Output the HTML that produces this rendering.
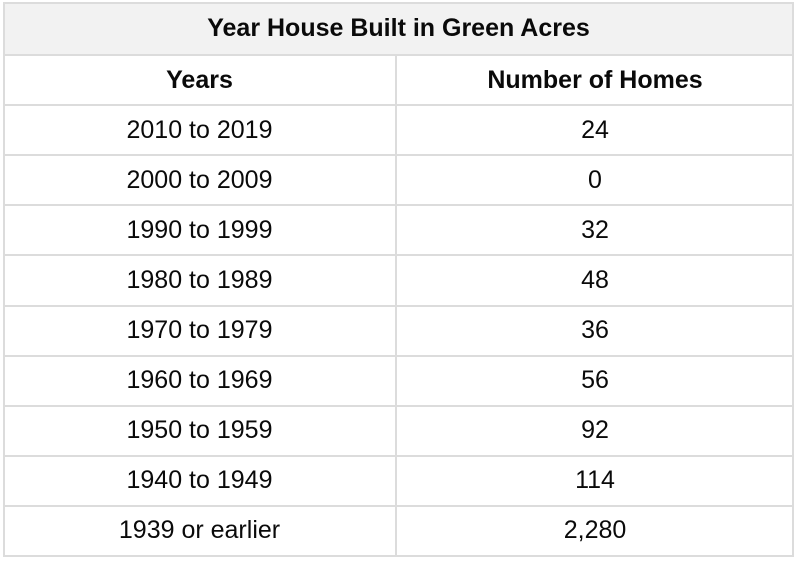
<!DOCTYPE html>
<html><head><meta charset="utf-8"><style>
body{margin:0;width:800px;height:566px;background:#fff;font-family:"Liberation Sans",Arial,sans-serif;position:relative;overflow:hidden}
.c{position:absolute;display:flex;align-items:center;justify-content:center;font-size:25px;color:#0a0a0a;box-sizing:border-box}
.h{position:absolute;background:#dcdcdc}
</style></head><body>
<div id="t"></div>
<script>
const years=["2010 to 2019","2000 to 2009","1990 to 1999","1980 to 1989","1970 to 1979","1960 to 1969","1950 to 1959","1940 to 1949","1939 or earlier"];
const homes=["24","0","32","48","36","56","92","114","2,280"];
const t=document.getElementById('t');
const L=3,R=794,M=396,T=2,rowH=50.1;
function cell(x,y,w,h,txt,bold,bg,name){
 const d=document.createElement('div');d.className='c';
 d.style.left=x+'px';d.style.top=y+'px';d.style.width=w+'px';d.style.height=h+'px';
 if(bold)d.style.fontWeight='bold';if(bg)d.style.background=bg;
 d.textContent=txt;
 
 
 t.appendChild(d);}
function line(x,y,w,h,name){const d=document.createElement('div');d.className='h';
 d.style.left=x+'px';d.style.top=y+'px';d.style.width=w+'px';d.style.height=h+'px';
 
 
 t.appendChild(d);}
cell(L,T,R-L,53,"Year House Built in Green Acres",true,"#f2f2f2","table-title");
cell(L,T+53,M-L,rowH,"Years",true,null,"years-header");
cell(M,T+53,R-M,rowH,"Number of Homes",true,null,"homes-header");
for(let i=0;i<years.length;i++){
 const y=T+53+rowH*(i+1);
 cell(L,y,M-L,rowH,years[i],false,null,"years-cell");
 cell(M,y,R-M,rowH,homes[i],false,null,"homes-cell");
}
const bottom=T+53+rowH*(years.length+1);
line(L,T,R-L,2,"border-top");
line(L,T,2,bottom-T,"border-left");
line(R-2,T,2,bottom-T,"border-right");
line(L,bottom-1,R-L,2,"border-bottom");
line(L,T+52,R-L,2,"title-border");
for(let i=1;i<=years.length;i++)line(L,T+53+rowH*i-1,R-L,2,"row-border");
line(M-1,T+53,2,bottom-T-53,"column-divider");
</script>
</body></html>
